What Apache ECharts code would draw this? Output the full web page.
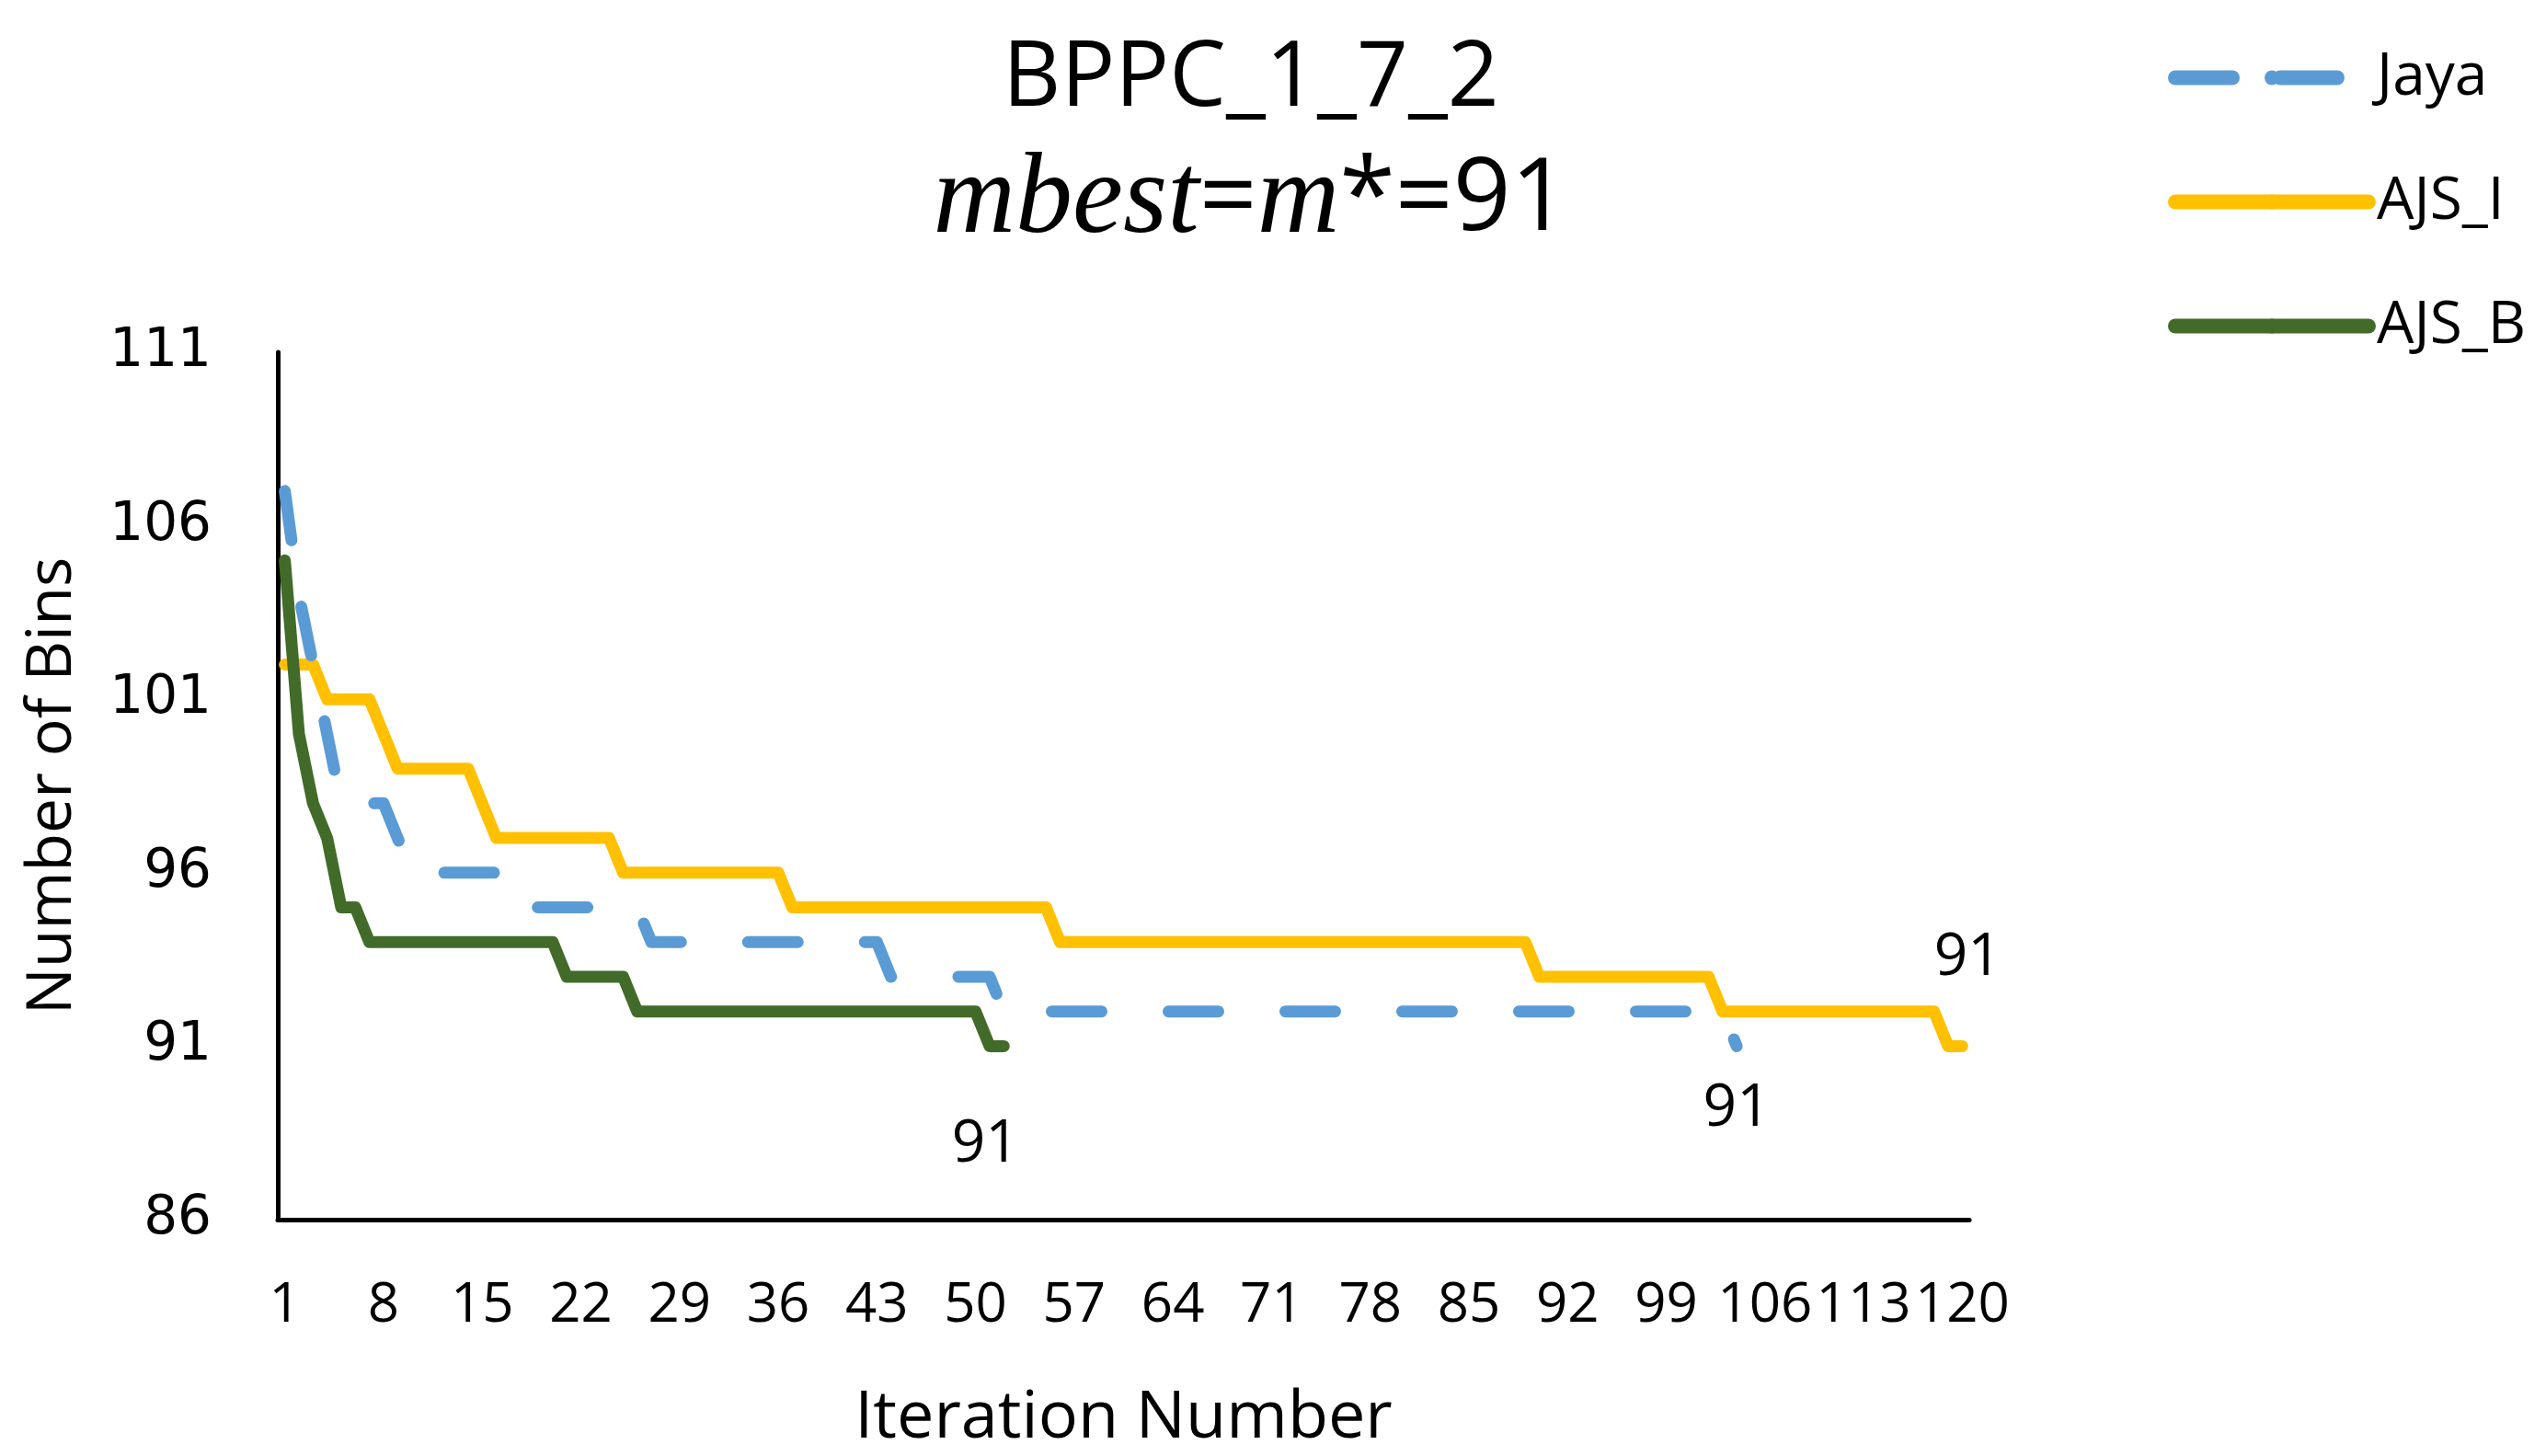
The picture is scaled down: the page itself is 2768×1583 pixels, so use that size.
<!DOCTYPE html>
<html>
<head>
<meta charset="utf-8">
<script src="https://cdn.jsdelivr.net/npm/echarts@6/dist/echarts.min.js"></script>
<style>html,body{margin:0;padding:0;background:#fff;}#c{width:2768px;height:1583px;}</style>
</head>
<body>
<div id="c"></div>
<script>
const categories = Array.from({length: 120}, (_, i) => String(i + 1));
const yTicks = [86, 91, 96, 101, 106, 111];

const jaya = [
  107,104,102,100,98,98,98,98,97,
  96,96,96,96,96,96,96,96,
  95,95,95,95,95,95,95,95,95,
  94,94,94,94,94,94,94,94,94,94,94,94,94,94,94,94,94,
  93,93,93,93,93,93,93,93,
  92,92,92,92,92,92,92,92,92,92,92,92,92,
  92,92,92,92,92,92,92,92,92,92,92,92,92,
  92,92,92,92,92,92,92,92,92,92,92,92,92,
  92,92,92,92,92,92,92,92,92,92,92,92,92,
  91
];
const ajsI = [
  102,102,102,
  101,101,101,101,
  100,
  99,99,99,99,99,99,
  98,
  97,97,97,97,97,97,97,97,97,
  96,96,96,96,96,96,96,96,96,96,96,96,
  95,95,95,95,95,95,95,95,95,95,95,95,95,95,95,95,95,95,95,
  94,94,94,94,94,94,94,94,94,94,94,94,94,94,94,94,94,
  94,94,94,94,94,94,94,94,94,94,94,94,94,94,94,94,94,
  93,93,93,93,93,93,93,93,93,93,93,93,93,
  92,92,92,92,92,92,92,92,92,92,92,92,92,92,92,92,
  91,91
];
const ajsB = [
  105,100,98,97,95,95,
  94,94,94,94,94,94,94,94,94,94,94,94,94,94,
  93,93,93,93,93,
  92,92,92,92,92,92,92,92,92,92,92,92,92,92,92,92,92,92,92,92,92,92,92,92,92,
  91,91
];

const FONT = 'Open Sans';
const COLORS = {jaya: '#5B9BD5', ajsI: '#FFC000', ajsB: '#426B2A'};

function endLabel(offset) {
  return {
    show: true, formatter: p => String(p.value), fontSize: 64, fontFamily: FONT,
    color: '#000', align: 'center', verticalAlign: 'middle', distance: 0, offset: offset
  };
}

const chart = echarts.init(document.getElementById('c'));
chart.setOption({
  animation: false,
  backgroundColor: '#fff',
  title: [
    {text: 'BPPC_1_7_2', left: 1355, top: 24, textAlign: 'center',
     textStyle: {fontSize: 98, fontWeight: 'normal', fontFamily: FONT, color: '#000', lineHeight: 116}},
    {text: '{i|mbest}{r|=}{i|m}{r|*=91}', left: 1355, top: 146, textAlign: 'center',
     textStyle: {fontWeight: 'normal', rich: {
       i: {fontSize: 124, fontStyle: 'italic', fontWeight: 'normal', fontFamily: 'Liberation Serif', color: '#000', lineHeight: 136},
       r: {fontSize: 110, fontWeight: 'normal', fontFamily: FONT, color: '#000', lineHeight: 136}
     }}}
  ],
  legend: {
    orient: 'vertical', left: 2352, top: 42, itemWidth: 210, itemHeight: 20, itemGap: 60,
    textStyle: {fontSize: 64, fontFamily: FONT, color: '#000', lineHeight: 75, padding: [0, 0, 0, 4]},
    data: [
      {name: 'Jaya', lineStyle: {type: [62, 52], width: 16, cap: 'round'}},
      {name: 'AJS_I', lineStyle: {width: 16, cap: 'round'}},
      {name: 'AJS_B', lineStyle: {width: 16, cap: 'round'}}
    ]
  },
  grid: {left: 302, right: 627, top: 383, bottom: 256, containLabel: false},
  xAxis: {
    type: 'category', data: categories, boundaryGap: true,
    name: 'Iteration Number', nameLocation: 'middle', nameGap: 180,
    nameTextStyle: {fontSize: 72, fontFamily: FONT, color: '#000'},
    axisLine: {lineStyle: {color: '#000', width: 5}},
    axisTick: {show: false},
    axisLabel: {interval: 6, showMaxLabel: true, showMinLabel: true, hideOverlap: false,
                fontSize: 60, fontFamily: FONT, color: '#000', margin: 64}
  },
  yAxis: {
    type: 'value', min: yTicks[0], max: yTicks[yTicks.length - 1], interval: 5,
    name: 'Number of Bins', nameLocation: 'middle', nameGap: 210, nameRotate: 90,
    nameTextStyle: {fontSize: 68, fontFamily: FONT, color: '#000'},
    axisLine: {show: true, lineStyle: {color: '#000', width: 5}},
    axisTick: {show: false},
    splitLine: {show: false},
    axisLabel: {fontSize: 58, fontFamily: 'DejaVu Sans', color: '#000', margin: 72}
  },
  series: [
    {name: 'Jaya', type: 'line', symbol: 'none', z: 3,
     data: jaya, color: COLORS.jaya,
     endLabel: endLabel([0, 68]),
     lineStyle: {color: COLORS.jaya, width: 13, type: [54, 73], cap: 'round', join: 'round'}},
    {name: 'AJS_I', type: 'line', symbol: 'none', z: 2,
     data: ajsI, color: COLORS.ajsI,
     endLabel: endLabel([6, -96]),
     lineStyle: {color: COLORS.ajsI, width: 13, cap: 'round', join: 'round'}},
    {name: 'AJS_B', type: 'line', symbol: 'none', z: 4,
     data: ajsB, color: COLORS.ajsB,
     endLabel: endLabel([-20, 107]),
     lineStyle: {color: COLORS.ajsB, width: 13, cap: 'round', join: 'round'}}
  ]
});
</script>
</body>
</html>
